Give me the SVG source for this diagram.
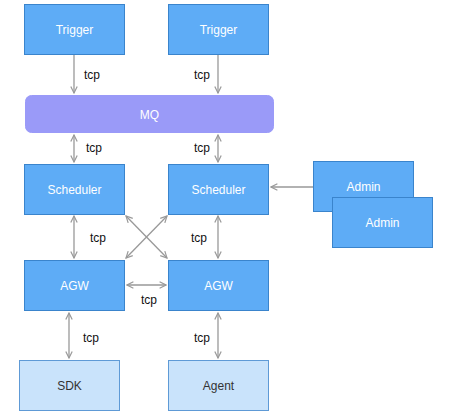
<svg xmlns="http://www.w3.org/2000/svg" width="453" height="415" viewBox="0 0 453 415">
<style>
.n{fill:#5eacf6;stroke:#3a84cc;stroke-width:1}
.l{fill:#c9e3fb;stroke:#5e9ad6;stroke-width:1}
.mq{fill:#9a9af8;stroke:#9a9af8}
.t{font-family:"Liberation Sans",Arial,sans-serif;font-size:12px;fill:#ffffff;text-anchor:middle}
.d{font-family:"Liberation Sans",Arial,sans-serif;font-size:12px;fill:#333333;text-anchor:middle}
.c{stroke:#999999;stroke-width:1.3;fill:none}
.lb{font-family:"Liberation Sans",Arial,sans-serif;font-size:12px;fill:#111111}
</style>
<defs>
<marker id="a" viewBox="0 0 10 10" refX="9" refY="5" markerWidth="8" markerHeight="8" orient="auto-start-reverse" markerUnits="userSpaceOnUse">
<path d="M1,1 L9,5 L1,9" fill="none" stroke="#999999" stroke-width="1.5"/>
</marker>
</defs>
<rect width="453" height="415" fill="#ffffff"/>
<g id="connectors">
<line class="c" x1="74" y1="55" x2="74" y2="93" marker-end="url(#a)"/>
<line class="c" x1="218" y1="55" x2="218" y2="93" marker-end="url(#a)"/>
<line class="c" x1="74" y1="135" x2="74" y2="162" marker-start="url(#a)" marker-end="url(#a)"/>
<line class="c" x1="218" y1="135" x2="218" y2="162" marker-start="url(#a)" marker-end="url(#a)"/>
<line class="c" x1="313" y1="187" x2="271" y2="187" marker-end="url(#a)"/>
<line class="c" x1="74" y1="216" x2="74" y2="258" marker-start="url(#a)" marker-end="url(#a)"/>
<line class="c" x1="218" y1="216" x2="218" y2="258" marker-start="url(#a)" marker-end="url(#a)"/>
<line class="c" x1="126" y1="216" x2="167" y2="258" marker-start="url(#a)" marker-end="url(#a)"/>
<line class="c" x1="167" y1="216" x2="126" y2="258" marker-start="url(#a)" marker-end="url(#a)"/>
<line class="c" x1="127" y1="285" x2="166" y2="285" marker-start="url(#a)" marker-end="url(#a)"/>
<line class="c" x1="69" y1="313" x2="69" y2="358" marker-start="url(#a)" marker-end="url(#a)"/>
<line class="c" x1="218" y1="313" x2="218" y2="358" marker-start="url(#a)" marker-end="url(#a)"/>
<text class="lb" x="84" y="79">tcp</text>
<text class="lb" x="194" y="79">tcp</text>
<text class="lb" x="86" y="152">tcp</text>
<text class="lb" x="194" y="152">tcp</text>
<text class="lb" x="90" y="242">tcp</text>
<text class="lb" x="191" y="242">tcp</text>
<text class="lb" x="141" y="304">tcp</text>
<text class="lb" x="83" y="342">tcp</text>
<text class="lb" x="194" y="342">tcp</text>
</g>
<g id="trigger1"><rect class="n" x="24.5" y="4.5" width="100" height="50"/><text class="t" x="74.5" y="34">Trigger</text></g>
<g id="trigger2"><rect class="n" x="168.5" y="4.5" width="100" height="50"/><text class="t" x="218.5" y="34">Trigger</text></g>
<g id="mq"><rect class="mq" x="25.5" y="95.5" width="248" height="37" rx="6"/><text class="t" x="149.5" y="119">MQ</text></g>
<g id="scheduler1"><rect class="n" x="24.5" y="164.5" width="100" height="50"/><text class="t" x="74.5" y="194">Scheduler</text></g>
<g id="scheduler2"><rect class="n" x="168.5" y="164.5" width="100" height="50"/><text class="t" x="218.5" y="194">Scheduler</text></g>
<g id="admin1"><rect class="n" x="313.5" y="161.5" width="100" height="50"/><text class="t" x="363.5" y="191">Admin</text></g>
<g id="admin2"><rect class="n" x="332.5" y="197.5" width="100" height="50"/><text class="t" x="382.5" y="227">Admin</text></g>
<g id="agw1"><rect class="n" x="24.5" y="260.5" width="100" height="50"/><text class="t" x="74.5" y="290">AGW</text></g>
<g id="agw2"><rect class="n" x="168.5" y="260.5" width="100" height="50"/><text class="t" x="218.5" y="290">AGW</text></g>
<g id="sdk"><rect class="l" x="19.5" y="360.5" width="100" height="50"/><text class="d" x="69.5" y="390">SDK</text></g>
<g id="agent"><rect class="l" x="168.5" y="360.5" width="100" height="50"/><text class="d" x="218.5" y="390">Agent</text></g>
</svg>
